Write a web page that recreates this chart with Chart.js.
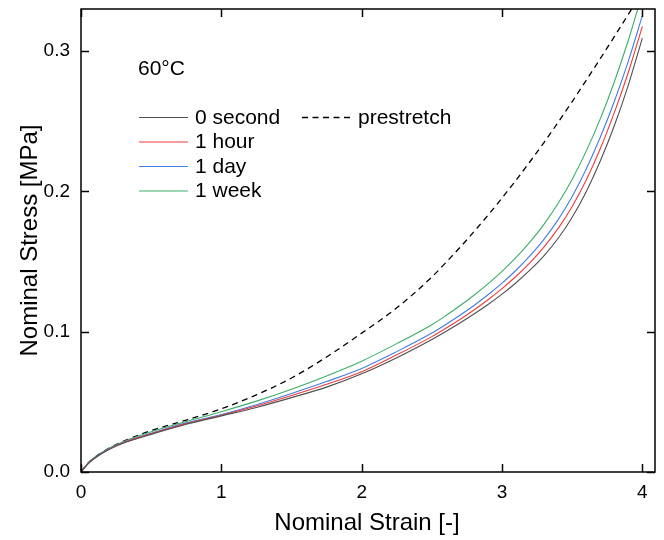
<!DOCTYPE html>
<html>
<head>
<meta charset="utf-8">
<script src="https://cdn.jsdelivr.net/npm/chart.js@4/dist/chart.umd.min.js"></script>
<style>
  body { margin: 0; background: #fff; }
  #wrap { width: 664px; height: 540px; }
</style>
</head>
<body>
<div id="wrap"><canvas id="chart" width="664" height="540"></canvas></div>
<script>
// strain values (shared by every curve)
const strain = [0, 0.05, 0.1, 0.2, 0.3, 0.5, 0.75, 1, 1.25, 1.5, 1.75, 2, 2.25,
  2.5, 2.6, 2.7, 2.8, 2.9, 3.0, 3.1, 3.2, 3.3, 3.4, 3.5, 3.6, 3.7, 3.8, 3.9, 4.0];

const stress0s = [0, 0.0058, 0.0100, 0.0160, 0.0205, 0.0268, 0.0340, 0.0400, 0.0460, 0.0530, 0.0605, 0.0700, 0.0815,
  0.0945, 0.1002, 0.1062, 0.1126, 0.1194, 0.1268, 0.1349, 0.1440, 0.1543, 0.1666, 0.1816, 0.1998, 0.2216, 0.2468, 0.2758, 0.3093];
const stress1h = [0, 0.0060, 0.0102, 0.0163, 0.0208, 0.0272, 0.0345, 0.0405, 0.0470, 0.0545, 0.0625, 0.0715, 0.0835,
  0.0965, 0.1024, 0.1087, 0.1155, 0.1228, 0.1307, 0.1395, 0.1493, 0.1605, 0.1736, 0.1893, 0.2081, 0.2304, 0.2561, 0.2849, 0.3176];
const stress1d = [0, 0.0062, 0.0104, 0.0166, 0.0211, 0.0276, 0.0350, 0.0410, 0.0480, 0.0560, 0.0645, 0.0738, 0.0858,
  0.0990, 0.1051, 0.1117, 0.1187, 0.1263, 0.1346, 0.1438, 0.1542, 0.1660, 0.1799, 0.1964, 0.2160, 0.2386, 0.2641, 0.2928, 0.3253];
const stress1w = [0, 0.0064, 0.0107, 0.0170, 0.0216, 0.0287, 0.0360, 0.0430, 0.0505, 0.0590, 0.0685, 0.0790, 0.0915,
  0.1050, 0.1115, 0.1185, 0.1260, 0.1341, 0.1430, 0.1529, 0.1640, 0.1767, 0.1915, 0.2087, 0.2287, 0.2517, 0.2780, 0.3077, 0.3412];
const stressPre = [0, 0.0063, 0.0106, 0.0170, 0.0218, 0.0295, 0.0370, 0.0450, 0.0550, 0.0670, 0.0820, 0.0990, 0.1170,
  0.1390, 0.1493, 0.1600, 0.1713, 0.1830, 0.1953, 0.2080, 0.2213, 0.2350, 0.2493, 0.2640, 0.2792, 0.2946, 0.3103, 0.3262, 0.3422];

const seriesNames = ["0 second", "1 hour", "1 day", "1 week", "prestretch"];
const xTicks = [0, 1, 2, 3, 4];
const yTicks = [0, 0.1, 0.2, 0.3];

const FONT = "'Liberation Sans', Arial, sans-serif";

function pts(ys) {
  return strain.map((x, i) => ({ x: x, y: ys[i] }));
}

function line(label, ys, color, dash) {
  return {
    label: label,
    data: pts(ys),
    borderColor: color,
    borderWidth: dash ? 1.3 : 1.1,
    borderDash: dash || [],
    pointRadius: 0,
    showLine: true,
    fill: false,
    cubicInterpolationMode: "monotone",
  };
}

// frame, inward ticks, axis titles and the legend
const decor = {
  id: "decor",
  afterDraw(chart) {
    const { ctx, chartArea: a, scales } = chart;
    const xs = scales.x, ys = scales.y;
    ctx.save();
    ctx.strokeStyle = "#000";
    ctx.lineWidth = 1.5;
    ctx.strokeRect(a.left, a.top, a.right - a.left, a.bottom - a.top);

    ctx.beginPath();
    xTicks.forEach((v) => {
      const px = Math.round(xs.getPixelForValue(v)) + 0.5;
      ctx.moveTo(px, a.bottom); ctx.lineTo(px, a.bottom - 8);
      ctx.moveTo(px, a.top); ctx.lineTo(px, a.top + 8);
    });
    yTicks.forEach((v) => {
      const py = Math.round(ys.getPixelForValue(v)) + 0.5;
      ctx.moveTo(a.left, py); ctx.lineTo(a.left + 8, py);
      ctx.moveTo(a.right, py); ctx.lineTo(a.right - 8, py);
    });
    ctx.stroke();

    // axis titles
    ctx.fillStyle = "#000";
    ctx.font = "24px " + FONT;
    ctx.textAlign = "center";
    ctx.textBaseline = "middle";
    ctx.fillText("Nominal Strain [-]", (a.left + a.right) / 2 - 1, 523);
    ctx.save();
    ctx.translate(30, (a.top + a.bottom) / 2);
    ctx.rotate(-Math.PI / 2);
    ctx.fillText("Nominal Stress [MPa]", 0, 0);
    ctx.restore();

    // legend
    ctx.font = "21px " + FONT;
    ctx.textAlign = "left";
    ctx.fillText("60°C", 138, 69);
    const rows = [117, 141.5, 166, 190.5];
    const ds = chart.data.datasets;
    ds.forEach((d, i) => {
      let x0 = 139, y = rows[i];
      if (i === 4) { x0 = 302; y = rows[0]; }
      ctx.strokeStyle = d.borderColor;
      ctx.lineWidth = d.borderWidth;
      ctx.setLineDash(d.borderDash);
      ctx.beginPath();
      ctx.moveTo(x0, y + 0.5);
      ctx.lineTo(x0 + 49, y + 0.5);
      ctx.stroke();
      ctx.setLineDash([]);
      ctx.fillText(d.label, x0 + 56, y + 1);
    });
    ctx.restore();
  },
};

new Chart(document.getElementById("chart"), {
  type: "scatter",
  data: {
    datasets: [
      line(seriesNames[0], stress0s, "#505050"),
      line(seriesNames[1], stress1h, "#ee3b3b"),
      line(seriesNames[2], stress1d, "#3f7fe6"),
      line(seriesNames[3], stress1w, "#3cae6c"),
      line(seriesNames[4], stressPre, "#000000", [6, 4.5]),
    ],
  },
  options: {
    responsive: false,
    animation: false,
    layout: { padding: { top: 9, right: 9, left: 0, bottom: 0 } },
    plugins: { legend: { display: false }, tooltip: { enabled: false } },
    scales: {
      x: {
        type: "linear",
        min: 0,
        max: 4.09,
        grid: { display: false, drawTicks: false },
        border: { display: false },
        afterFit: (s) => { s.height = 68; s.paddingLeft = 0; s.paddingRight = 0; },
        ticks: {
          stepSize: 1,
          includeBounds: false,
          padding: 9,
          color: "#000",
          font: { family: FONT, size: 19 },
          callback: (v) => v,
        },
      },
      y: {
        type: "linear",
        min: 0,
        max: 0.33,
        grid: { display: false, drawTicks: false },
        border: { display: false },
        afterFit: (s) => { s.width = 81; s.paddingTop = 0; s.paddingBottom = 0; },
        ticks: {
          stepSize: 0.1,
          includeBounds: false,
          padding: 11,
          color: "#000",
          font: { family: FONT, size: 19 },
          callback: (v) => v.toFixed(1),
        },
      },
    },
  },
  plugins: [decor],
});
</script>
</body>
</html>
